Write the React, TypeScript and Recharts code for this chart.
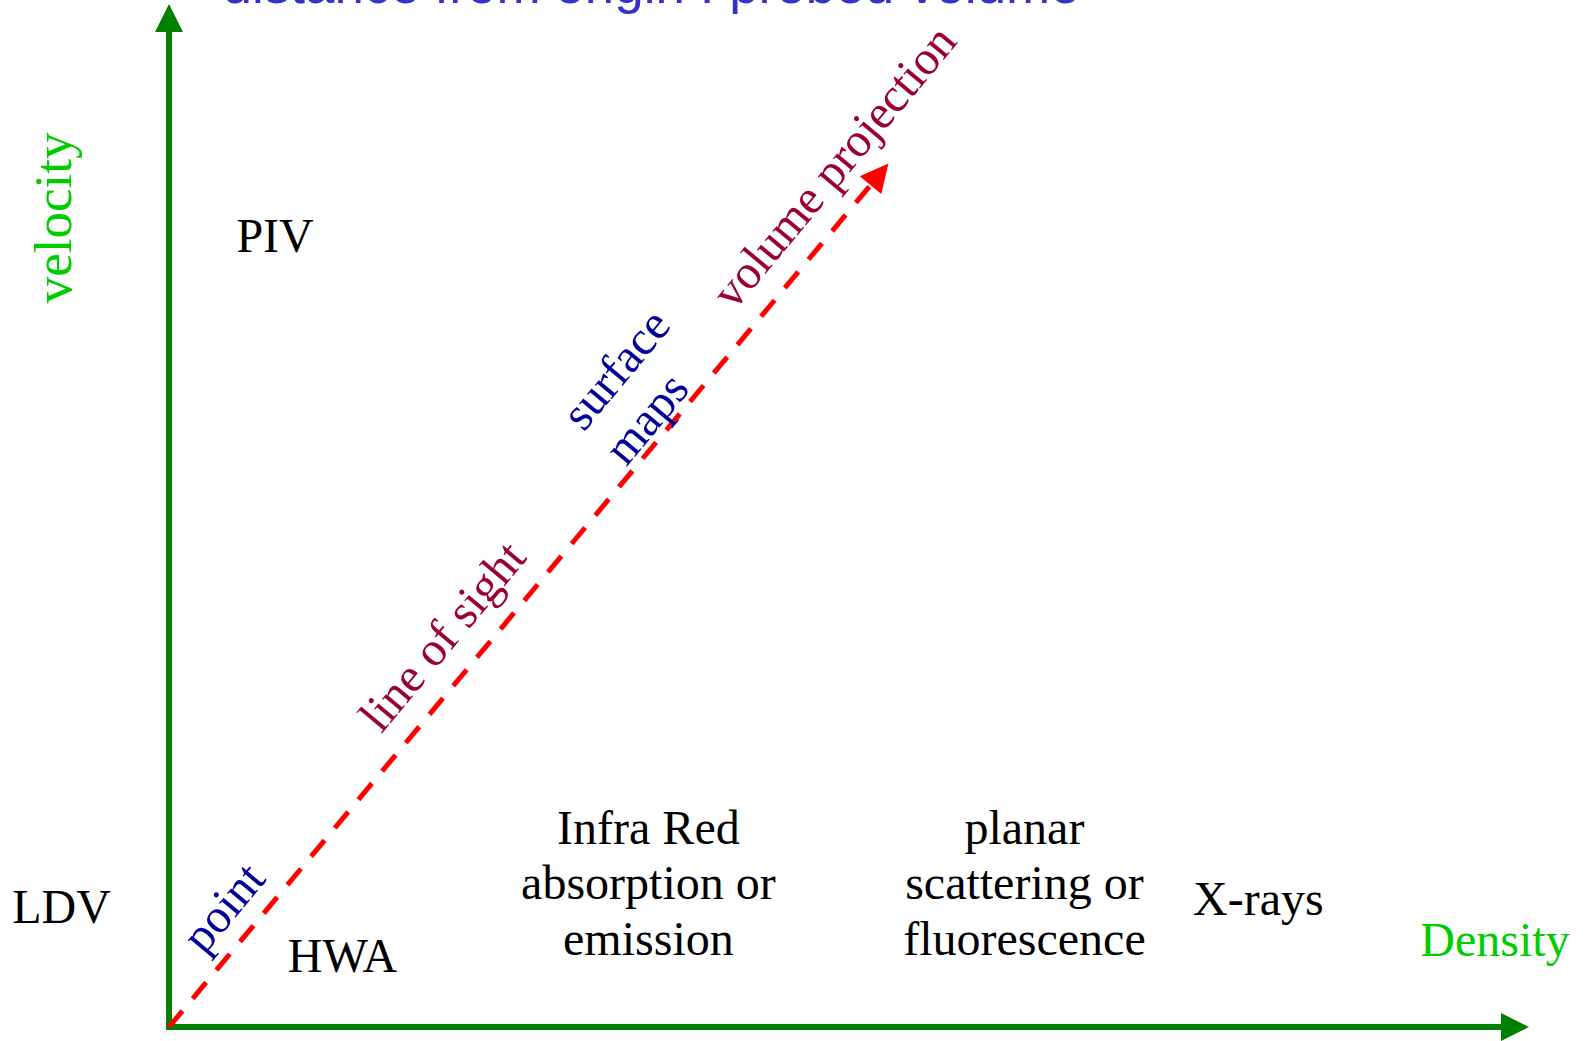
import { ComposedChart, XAxis, YAxis, Scatter, ReferenceLine, ReferenceDot } from 'recharts'

// diagram space: x = density, y = velocity, both run 0..100 along the arrows
const X_AXIS_PATH = [{ x: 0, y: 0 }, { x: 100, y: 0 }]
const Y_AXIS_PATH = [{ x: 0, y: 0 }, { x: 0, y: 100 }]
const PROBE_PATH = [{ x: 0, y: 0 }, { x: 52.9, y: 84.4 }]

const TECHNIQUES = ['PIV', 'LDV', 'HWA', 'Infra Red|absorption or|emission', 'planar|scattering or|fluorescence', 'X-rays']
const TECHNIQUE_X = [7.8, -7.9, 12.75, 35.25, 62.9, 80.1]
const TECHNIQUE_Y = [75.8, 10.2, 5.4, 17.9, 17.9, 10.9]

const VOLUMES = ['point', 'line of sight', 'surface', 'maps', 'volume projection']
const VOLUME_X = [4.9, 21.0, 33.75, 36.0, 49.8]
const VOLUME_Y = [10.7, 37.2, 63.3, 58.5, 83.1]
const VOLUME_KIND = ['near', 'far', 'near', 'near', 'far']

const AXIS_NAMES = ['velocity', 'Density']
const AXIS_NAME_X = [-7.2, 97.5]
const AXIS_NAME_Y = [79.1, 6.9]

const TITLE = 'distance from origin : probed volume'
const TITLE_X = 35.45
const TITLE_Y = 100.1

const W = 1588
const H = 1041
const MARGIN = { top: 4, right: 59, bottom: 14, left: 169 }
const PLOT_W = W - MARGIN.left - MARGIN.right
const PLOT_H = H - MARGIN.top - MARGIN.bottom

const SERIF = '"Liberation Serif", "Times New Roman", serif'
const SANS = '"Liberation Sans", Arial, sans-serif'
const AXIS_GREEN = '#008000'
const NAME_GREEN = '#00CC00'
const NAME_SIZES = [53, 48]
const KIND_COLORS: Record<string, string> = { near: '#000099', far: '#990033' }

// angle of the probe arrow on screen
const PROBE_ANGLE =
  (Math.atan2((PROBE_PATH[1].y / 100) * PLOT_H, (PROBE_PATH[1].x / 100) * PLOT_W) * 180) / Math.PI

function Arrow(props: any) {
  const { x1, y1, x2, y2, color, width, dash } = props
  const dx = x2 - x1
  const dy = y2 - y1
  const len = Math.hypot(dx, dy)
  if (!len) return null
  const ux = dx / len
  const uy = dy / len
  const head = 28
  const half = 14
  const bx = x2 - ux * head
  const by = y2 - uy * head
  const pts = `${x2},${y2} ${bx - uy * half},${by + ux * half} ${bx + uy * half},${by - ux * half}`
  return (
    <g>
      <line
        x1={x1}
        y1={y1}
        x2={bx + ux * 2}
        y2={by + uy * 2}
        stroke={color}
        strokeWidth={width}
        strokeDasharray={dash}
        strokeLinecap={dash ? 'butt' : 'square'}
      />
      <polygon points={pts} fill={color} />
    </g>
  )
}

function Words(props: any) {
  const { cx, cy, text, color, angle = 0, font = SERIF, size = 48 } = props
  const lines = String(text).split('|')
  return (
    <text
      x={cx}
      y={cy}
      fill={color}
      fontFamily={font}
      fontSize={size}
      textAnchor="middle"
      transform={angle ? `rotate(${-angle} ${cx} ${cy})` : undefined}
    >
      {lines.map((l, i) => (
        <tspan key={i} x={cx} dy={i === 0 ? 0 : 55.5}>
          {l}
        </tspan>
      ))}
    </text>
  )
}

export default function App() {
  return (
    <div style={{ position: 'absolute', left: 0, top: 0, width: W, height: H, background: '#fff' }}>
      <ComposedChart width={W} height={H} margin={MARGIN}>
        <XAxis type="number" dataKey="x" domain={[0, 100]} hide />
        <YAxis type="number" dataKey="y" domain={[0, 100]} hide />

        <Scatter data={PROBE_PATH} dataKey="y" shape={() => <g />} isAnimationActive={false} />

        <ReferenceLine
          segment={Y_AXIS_PATH}
          ifOverflow="visible"
          shape={(p: any) => <Arrow {...p} color={AXIS_GREEN} width={6} />}
        />
        <ReferenceLine
          segment={X_AXIS_PATH}
          ifOverflow="visible"
          shape={(p: any) => <Arrow {...p} color={AXIS_GREEN} width={6} />}
        />
        <ReferenceLine
          segment={PROBE_PATH}
          ifOverflow="visible"
          shape={(p: any) => <Arrow {...p} color="#FF0000" width={5} dash="21 16" />}
        />

        {TECHNIQUES.map((t, i) => (
          <ReferenceDot
            key={t}
            x={TECHNIQUE_X[i]}
            y={TECHNIQUE_Y[i]}
            ifOverflow="visible"
            shape={(p: any) => <Words cx={p.cx} cy={p.cy} text={t} color="#000" />}
          />
        ))}

        {VOLUMES.map((v, i) => (
          <ReferenceDot
            key={v}
            x={VOLUME_X[i]}
            y={VOLUME_Y[i]}
            ifOverflow="visible"
            shape={(p: any) => (
              <Words cx={p.cx} cy={p.cy} text={v} color={KIND_COLORS[VOLUME_KIND[i]]} angle={PROBE_ANGLE} />
            )}
          />
        ))}

        {AXIS_NAMES.map((n, i) => (
          <ReferenceDot
            key={n}
            x={AXIS_NAME_X[i]}
            y={AXIS_NAME_Y[i]}
            ifOverflow="visible"
            shape={(p: any) => (
              <Words cx={p.cx} cy={p.cy} text={n} color={NAME_GREEN} size={NAME_SIZES[i]} angle={i === 0 ? 90 : 0} />
            )}
          />
        ))}

        <ReferenceDot
          x={TITLE_X}
          y={TITLE_Y}
          ifOverflow="visible"
          shape={(p: any) => <Words cx={p.cx} cy={p.cy} text={TITLE} color="#3333CC" font={SANS} size={53} />}
        />
      </ComposedChart>
    </div>
  )
}
